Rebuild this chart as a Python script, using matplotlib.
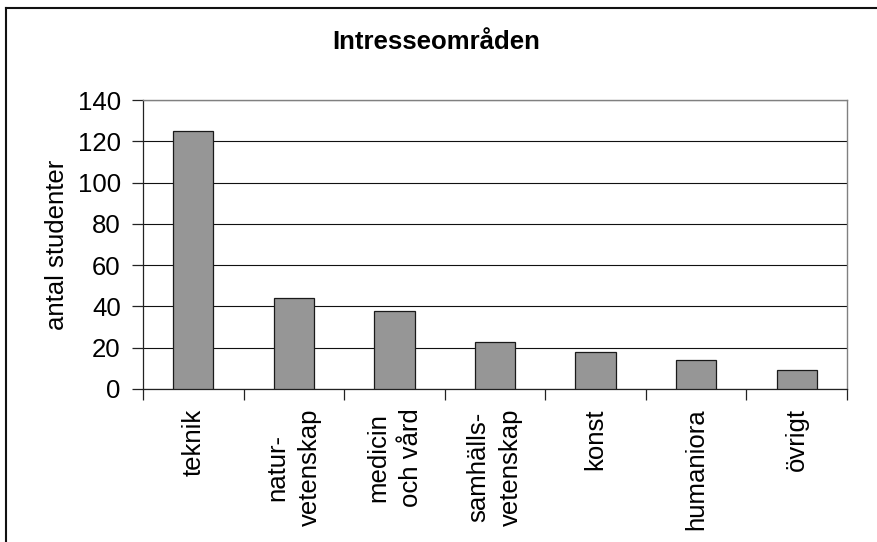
import numpy as np
import matplotlib
matplotlib.use("Agg")
import matplotlib.pyplot as plt
from matplotlib.lines import Line2D

plt.rcParams['font.family'] = ['Liberation Sans', 'DejaVu Sans']

# Data
categories = ["teknik", "natur-\nvetenskap", "medicin\noch vård", "samhälls-\nvetenskap",
              "konst", "humaniora", "övrigt"]
students = [125, 44, 38, 23, 18, 14, 9]
yticks = [0, 20, 40, 60, 80, 100, 120, 140]

W, H = 877, 542
fig = plt.figure(figsize=(W / 100, H / 100), dpi=100)
fig.patch.set_facecolor("white")

# plot area in pixels
left, right, top, bottom = 143, 847, 100, 389
ax = fig.add_axes([left / W, 1 - bottom / H, (right - left) / W, (bottom - top) / H])

x = np.arange(len(categories))
ax.bar(x, students, width=0.4, color="#969696", edgecolor="#1a1a1a", linewidth=0.9, zorder=3)

ax.set_xlim(-0.5, len(categories) - 0.5)
ax.set_ylim(0, 140)
ax.set_yticks(yticks)
ax.set_yticklabels([str(v) for v in yticks], fontsize=18.5)
ax.yaxis.grid(True, color="#111111", linewidth=0.8, zorder=0)

# category boundaries carry the tick marks, centres carry the labels
ax.set_xticks(np.arange(len(categories) + 1) - 0.5)
ax.set_xticklabels([])
ax.set_xticks(x, minor=True)
ax.set_xticklabels(categories, minor=True, rotation=90, fontsize=18.5,
                   ha="center", va="top", multialignment="center", linespacing=1.45)
ax.tick_params(axis="x", which="minor", length=0, pad=14)
ax.tick_params(axis="x", which="major", length=8, width=0.9, color="#222222", direction="out")
ax.tick_params(axis="y", length=8, width=0.9, color="#222222", direction="out", pad=8)

for side in ["top", "right"]:
    ax.spines[side].set_color("#808080")
    ax.spines[side].set_linewidth(1.0)
for side in ["left", "bottom"]:
    ax.spines[side].set_color("#222222")
    ax.spines[side].set_linewidth(0.9)

ax.set_ylabel("antal studenter", fontsize=18.5, labelpad=6)
fig.text(436 / W, 1 - 42 / H, "Intresseområden", fontsize=18.5, fontweight="bold",
         ha="center", va="center")

# chart frame (only its top and left edges fall inside the image)
fig.add_artist(Line2D([6 / W, 6 / W], [0, 1 - 8 / H], transform=fig.transFigure,
                      color="#111111", linewidth=1.5))
fig.add_artist(Line2D([6 / W, 1], [1 - 8 / H, 1 - 8 / H], transform=fig.transFigure,
                      color="#111111", linewidth=1.5))

fig.savefig("out.png", dpi=100)
